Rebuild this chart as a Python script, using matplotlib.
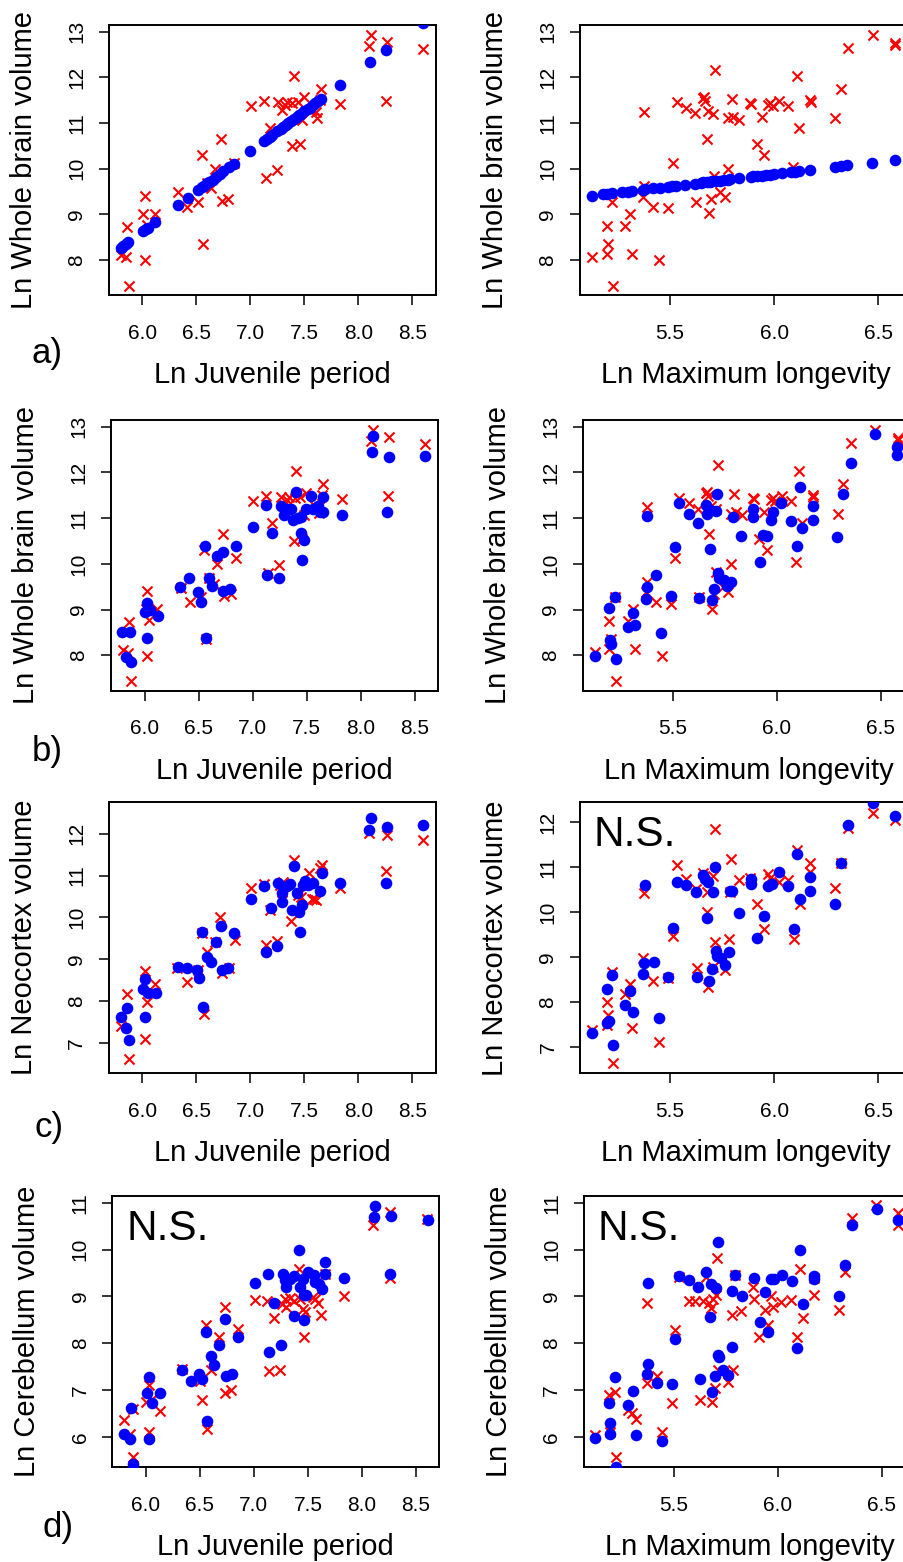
import matplotlib
matplotlib.use('Agg')
import matplotlib.pyplot as plt

plt.rcParams['font.family'] = ['Liberation Sans', 'DejaVu Sans']

# ---------------- observed values (red crosses) ----------------
obs_juv_brain_x = [5.80, 5.85, 5.855, 5.873, 6.01, 6.025, 6.025, 6.04, 6.117, 6.333, 6.417, 6.52, 6.55,
                   6.565, 6.60, 6.64, 6.67, 6.725, 6.735, 6.796, 6.85, 7.003, 7.127, 7.142, 7.182, 7.244,
                   7.26, 7.29, 7.32, 7.34, 7.383, 7.404, 7.39, 7.46, 7.44, 7.475, 7.497, 7.568, 7.614,
                   7.61, 7.65, 7.645, 7.83, 8.10, 8.114, 8.262, 8.253, 8.60]
obs_juv_brain_y = [8.11, 8.06, 8.73, 7.43, 9.01, 9.40, 7.99, 8.77, 9.01, 9.48, 9.17, 9.28, 10.30,
                   8.36, 9.68, 9.57, 10.00, 10.66, 9.30, 9.34, 10.12, 11.37, 11.49, 9.79, 10.90, 9.97,
                   11.47, 11.28, 11.39, 11.47, 10.50, 12.03, 11.43, 10.54, 11.47, 11.07, 11.56, 11.28, 11.12,
                   11.25, 11.74, 11.50, 11.42, 12.69, 12.93, 12.77, 11.49, 12.63]

obs_lon_brain_x = [5.127, 5.196, 5.204, 5.196, 5.223, 5.228, 5.284, 5.308, 5.319, 5.377, 5.372, 5.377,
                   5.42, 5.447, 5.492, 5.513, 5.532, 5.577, 5.62, 5.625, 5.66, 5.668, 5.663, 5.676,
                   5.684, 5.689, 5.697, 5.708, 5.716, 5.71, 5.74, 5.764, 5.78, 5.78, 5.796, 5.804,
                   5.833, 5.884, 5.89, 5.916, 5.94, 5.951, 5.972, 5.98, 5.993, 6.025, 6.068, 6.092,
                   6.108, 6.121, 6.172, 6.175, 6.292, 6.319, 6.356, 6.473, 6.58, 6.58]
obs_lon_brain_y = [8.07, 8.75, 8.36, 8.13, 9.28, 7.43, 8.74, 9.01, 8.13, 11.25, 9.39, 9.61,
                   9.17, 7.99, 9.13, 10.13, 11.45, 11.34, 11.21, 9.28, 11.54, 11.49, 11.58, 10.66,
                   11.26, 9.02, 9.34, 11.20, 12.16, 9.83, 9.50, 9.39, 9.99, 11.10, 11.53, 11.14,
                   11.07, 11.43, 11.42, 10.54, 11.14, 10.30, 11.39, 11.43, 11.37, 11.49, 11.37, 10.04,
                   12.03, 10.90, 11.50, 11.47, 11.10, 11.74, 12.64, 12.93, 12.76, 12.71]

obs_juv_neo_x = [5.80, 5.855, 5.873, 6.025, 6.04, 6.025, 6.117, 6.32, 6.417, 6.52, 6.571, 6.55, 6.596,
                 6.673, 6.719, 6.735, 6.806, 6.858, 7.003, 7.127, 7.142, 7.182, 7.244, 7.275, 7.306,
                 7.29, 7.377, 7.404, 7.44, 7.47, 7.546, 7.568, 7.59, 7.608, 7.645, 7.66, 7.83, 8.10,
                 8.262, 8.253, 8.60]
obs_juv_neo_y = [7.41, 8.16, 6.61, 8.72, 7.98, 7.10, 8.40, 8.79, 8.46, 8.74, 7.69, 9.62, 9.18,
                 9.42, 10.00, 8.66, 8.78, 9.46, 10.69, 10.79, 9.34, 10.17, 9.44, 10.77, 10.85,
                 10.61, 9.91, 11.37, 10.53, 10.49, 11.05, 10.43, 10.45, 10.41, 11.17, 11.25, 10.69, 12.01,
                 11.98, 11.11, 11.86]

obs_lon_neo_x = [5.127, 5.196, 5.204, 5.196, 5.223, 5.228, 5.284, 5.308, 5.319, 5.377, 5.372, 5.42,
                 5.447, 5.492, 5.513, 5.532, 5.577, 5.628, 5.625, 5.66, 5.676, 5.676, 5.684, 5.708,
                 5.716, 5.716, 5.708, 5.764, 5.785, 5.793, 5.788, 5.833, 5.884, 5.916, 5.951, 5.972,
                 5.98, 6.025, 6.068, 6.097, 6.108, 6.124, 6.172, 6.172, 6.292, 6.319, 6.356, 6.473, 6.58]
obs_lon_neo_y = [7.37, 7.99, 7.71, 7.48, 8.67, 6.63, 8.17, 8.39, 7.41, 10.42, 8.97, 8.46,
                 7.11, 8.52, 9.47, 11.05, 10.73, 8.75, 10.51, 10.86, 10.01, 10.44, 8.34, 10.81,
                 11.85, 9.33, 8.78, 8.71, 9.41, 11.18, 10.44, 10.71, 10.77, 10.19, 9.62, 10.84,
                 10.75, 10.68, 10.71, 9.41, 11.38, 10.19, 11.09, 10.89, 10.53, 11.09, 11.87, 12.20, 12.05]

obs_juv_cer_x = [5.80, 5.855, 5.88, 5.88, 6.00, 6.03, 6.03, 6.056, 6.127, 6.333, 6.50, 6.52, 6.556,
                 6.565, 6.60, 6.68, 6.728, 6.735, 6.79, 6.852, 7.006, 7.12, 7.139, 7.182, 7.244, 7.26,
                 7.29, 7.30, 7.33, 7.367, 7.414, 7.423, 7.454, 7.46, 7.475, 7.546, 7.568, 7.59, 7.62,
                 7.66, 7.83, 8.10, 8.262, 8.256, 8.60]
obs_juv_cer_y = [6.35, 6.06, 6.60, 5.57, 6.74, 7.11, 6.11, 6.81, 6.54, 7.45, 7.20, 6.78, 8.38,
                 6.17, 7.42, 8.13, 8.77, 6.94, 6.99, 8.31, 8.93, 8.91, 7.40, 8.54, 7.42, 8.84,
                 8.95, 8.77, 8.96, 8.91, 9.59, 8.95, 8.72, 8.13, 8.66, 8.98, 8.95, 8.86, 8.61,
                 9.48, 9.01, 10.53, 10.80, 9.39, 10.66]

obs_lon_cer_x = [5.121, 5.19, 5.193, 5.217, 5.222, 5.282, 5.30, 5.319, 5.37, 5.418, 5.442, 5.49, 5.508,
                 5.37, 5.527, 5.572, 5.604, 5.624, 5.64, 5.656, 5.669, 5.68, 5.685, 5.688, 5.704,
                 5.696, 5.709, 5.712, 5.736, 5.76, 5.78, 5.787, 5.792, 5.824, 5.88, 5.884, 5.912,
                 5.937, 5.953, 5.969, 5.977, 6.017, 6.065, 6.092, 6.105, 6.121, 6.174, 6.174, 6.293,
                 6.322, 6.354, 6.471, 6.579, 6.579]
obs_lon_cer_y = [6.03, 6.90, 6.09, 6.95, 5.57, 6.58, 6.51, 6.37, 7.15, 7.30, 6.09, 6.72, 8.27,
                 8.86, 9.41, 8.89, 8.91, 6.78, 8.91, 9.41, 8.86, 8.75, 6.74, 8.95, 9.02,
                 7.03, 9.82, 7.42, 7.38, 7.17, 8.61, 7.42, 9.45, 8.68, 9.20, 8.95, 8.13,
                 8.70, 8.38, 9.01, 8.77, 8.88, 8.93, 8.12, 9.59, 8.54, 9.02, 9.39, 8.70,
                 9.52, 10.67, 10.96, 10.79, 10.53]

# ---------------- predicted values (blue dots) ----------------
pred_a_juv_x = [5.80, 5.82, 5.85, 5.87, 6.01, 6.03, 6.05, 6.12, 6.33, 6.42, 6.52, 6.55, 6.57, 6.60, 6.62,
                6.65, 6.68, 6.72, 6.75, 6.80, 6.85, 7.00, 7.13, 7.15, 7.18, 7.20, 7.25, 7.28, 7.30, 7.33,
                7.35, 7.38, 7.40, 7.43, 7.45, 7.47, 7.50, 7.53, 7.55, 7.58, 7.60, 7.63, 7.65, 7.83, 8.11,
                8.26, 8.60]
pred_a_juv_y = [8.27, 8.30, 8.36, 8.39, 8.64, 8.67, 8.71, 8.83, 9.20, 9.36, 9.54, 9.59, 9.62, 9.68, 9.71,
                9.76, 9.82, 9.89, 9.94, 10.03, 10.11, 10.38, 10.61, 10.64, 10.69, 10.73, 10.82, 10.87, 10.91, 10.96,
                10.99, 11.05, 11.08, 11.13, 11.17, 11.20, 11.26, 11.31, 11.34, 11.40, 11.43, 11.49, 11.52, 11.84, 12.33,
                12.59, 13.19]

pred_a_lon_x = [5.127, 5.18, 5.20, 5.22, 5.27, 5.30, 5.32, 5.37, 5.38, 5.42, 5.45, 5.49, 5.51, 5.53, 5.57,
                5.62, 5.65, 5.66, 5.68, 5.69, 5.70, 5.72, 5.74, 5.76, 5.78, 5.79, 5.83, 5.89, 5.90, 5.92,
                5.94, 5.96, 5.98, 6.00, 6.04, 6.08, 6.10, 6.12, 6.17, 6.29, 6.32, 6.35, 6.47, 6.58]
pred_a_lon_y = [9.41, 9.44, 9.45, 9.46, 9.49, 9.50, 9.51, 9.54, 9.55, 9.57, 9.58, 9.60, 9.62, 9.63, 9.65,
                9.67, 9.69, 9.70, 9.71, 9.71, 9.72, 9.73, 9.74, 9.75, 9.76, 9.77, 9.79, 9.82, 9.83, 9.84,
                9.85, 9.86, 9.87, 9.88, 9.90, 9.92, 9.93, 9.94, 9.97, 10.03, 10.05, 10.07, 10.13, 10.19]

pred_b_juv_x = [5.793, 5.861, 5.83, 5.877, 6.025, 6.00, 6.05, 6.025, 6.123, 6.33, 6.41, 6.494, 6.52, 6.556,
                6.565, 6.60, 6.623, 6.67, 6.725, 6.73, 6.787, 6.849, 7.003, 7.12, 7.136, 7.182, 7.244,
                7.26, 7.287, 7.318, 7.358, 7.373, 7.404, 7.42, 7.444, 7.45, 7.457, 7.472, 7.49, 7.543,
                7.559, 7.605, 7.627, 7.65, 7.65, 7.827, 8.105, 8.114, 8.262, 8.247, 8.60]
pred_b_juv_y = [8.52, 8.52, 7.97, 7.86, 9.14, 8.95, 8.99, 8.37, 8.87, 9.50, 9.70, 9.39, 9.17, 10.40,
                8.37, 9.70, 9.52, 10.17, 10.25, 9.41, 9.44, 10.38, 10.80, 11.29, 9.76, 10.68, 9.68,
                11.27, 11.07, 11.21, 11.21, 10.96, 11.58, 11.00, 10.68, 11.03, 10.08, 10.52, 11.21, 11.48,
                11.21, 11.27, 11.14, 11.47, 11.14, 11.07, 12.45, 12.80, 12.33, 11.14, 12.36]

pred_b_lon_x = [5.126, 5.196, 5.198, 5.204, 5.222, 5.228, 5.284, 5.31, 5.321, 5.372, 5.377, 5.377, 5.42,
                5.446, 5.492, 5.513, 5.532, 5.577, 5.62, 5.625, 5.66, 5.665, 5.677, 5.68, 5.688, 5.696,
                5.708, 5.712, 5.716, 5.72, 5.744, 5.76, 5.78, 5.789, 5.83, 5.885, 5.885, 5.917, 5.936,
                5.952, 5.971, 5.981, 6.021, 6.067, 6.096, 6.109, 6.123, 6.173, 6.173, 6.29, 6.32, 6.355,
                6.471, 6.575, 6.575]
pred_b_lon_y = [7.99, 9.03, 8.34, 8.25, 9.28, 7.93, 8.63, 8.93, 8.66, 9.23, 9.49, 11.05, 9.76,
                8.48, 9.30, 10.36, 11.34, 11.10, 10.90, 9.25, 11.29, 11.10, 10.32, 11.18, 9.20, 9.45,
                11.16, 11.53, 9.79, 9.68, 9.65, 9.52, 9.60, 11.02, 10.61, 11.19, 11.02, 10.03, 10.63,
                10.62, 10.96, 11.13, 11.34, 10.94, 10.40, 11.67, 10.79, 11.27, 10.97, 10.58, 11.52, 12.21,
                12.85, 12.55, 12.37]

pred_c_juv_x = [5.80, 5.849, 5.861, 5.877, 6.003, 6.025, 6.025, 6.056, 6.123, 6.333, 6.417, 6.503, 6.525,
                6.556, 6.565, 6.602, 6.633, 6.679, 6.725, 6.735, 6.796, 6.852, 7.006, 7.127, 7.142, 7.188,
                7.244, 7.26, 7.29, 7.296, 7.343, 7.367, 7.383, 7.404, 7.429, 7.454, 7.46, 7.475, 7.485,
                7.506, 7.537, 7.583, 7.645, 7.66, 7.83, 8.10, 8.114, 8.262, 8.253, 8.60]
pred_c_juv_y = [7.61, 7.34, 7.84, 7.06, 8.28, 8.52, 7.61, 8.20, 8.20, 8.80, 8.79, 8.74, 8.56,
                9.64, 7.85, 9.06, 8.94, 9.40, 9.79, 8.75, 8.79, 9.63, 10.45, 10.76, 9.18, 10.23,
                9.32, 10.83, 10.57, 10.37, 10.75, 10.79, 10.17, 11.23, 10.57, 10.12, 9.64, 10.29, 10.77,
                10.87, 10.77, 10.81, 10.63, 11.07, 10.83, 12.10, 12.38, 12.15, 10.81, 12.22]

pred_c_lon_x = [5.127, 5.196, 5.196, 5.207, 5.223, 5.228, 5.284, 5.308, 5.321, 5.372, 5.377, 5.38, 5.423,
                5.447, 5.492, 5.513, 5.532, 5.577, 5.623, 5.628, 5.66, 5.668, 5.684, 5.676, 5.686, 5.70,
                5.708, 5.716, 5.719, 5.724, 5.743, 5.764, 5.783, 5.788, 5.796, 5.831, 5.887, 5.887, 5.916,
                5.951, 5.972, 5.988, 6.023, 6.068, 6.097, 6.111, 6.124, 6.172, 6.172, 6.292, 6.321, 6.356,
                6.473, 6.58]
pred_c_lon_y = [7.30, 8.29, 7.52, 7.58, 8.60, 7.04, 7.93, 8.24, 7.77, 8.63, 8.86, 10.60, 8.89,
                7.65, 8.56, 9.65, 10.66, 10.60, 10.45, 8.56, 10.83, 10.73, 10.68, 9.86, 8.46, 8.73,
                10.45, 11.01, 9.14, 9.01, 8.97, 8.82, 9.10, 10.47, 10.47, 9.99, 10.73, 10.63, 9.43,
                9.91, 10.58, 10.63, 10.90, 10.57, 9.62, 11.29, 10.28, 10.79, 10.47, 10.19, 11.09, 11.94,
                12.42, 12.13]

pred_d_juv_x = [5.80, 5.849, 5.864, 5.88, 6.01, 6.03, 6.03, 6.056, 6.127, 6.333, 6.417, 6.494, 6.519,
                6.556, 6.565, 6.60, 6.627, 6.679, 6.728, 6.74, 6.796, 6.852, 7.006, 7.13, 7.142, 7.182,
                7.25, 7.265, 7.284, 7.30, 7.336, 7.367, 7.373, 7.414, 7.429, 7.454, 7.46, 7.46, 7.485,
                7.497, 7.552, 7.568, 7.60, 7.63, 7.66, 7.66, 7.836, 8.123, 8.114, 8.268, 8.256, 8.608]
pred_d_juv_y = [6.06, 5.96, 6.61, 5.41, 6.94, 7.28, 5.96, 6.71, 6.94, 7.42, 7.19, 7.35, 7.24,
                8.24, 6.33, 7.72, 7.54, 7.97, 8.52, 7.30, 7.35, 8.12, 9.28, 9.48, 7.81, 8.86,
                7.97, 9.47, 9.34, 9.20, 9.38, 9.43, 8.58, 9.98, 9.20, 9.38, 9.02, 8.50, 9.03,
                9.52, 9.45, 9.30, 9.27, 9.16, 9.73, 9.48, 9.39, 10.94, 10.69, 10.72, 9.48, 10.64]

pred_d_lon_x = [5.121, 5.19, 5.195, 5.193, 5.217, 5.225, 5.282, 5.303, 5.319, 5.37, 5.375, 5.375, 5.418,
                5.442, 5.49, 5.508, 5.527, 5.575, 5.619, 5.624, 5.656, 5.675, 5.68, 5.685, 5.696, 5.704,
                5.712, 5.712, 5.717, 5.736, 5.76, 5.78, 5.78, 5.792, 5.827, 5.884, 5.916, 5.937, 5.953,
                5.969, 5.98, 6.02, 6.068, 6.094, 6.105, 6.121, 6.174, 6.174, 6.293, 6.322, 6.357, 6.474,
                6.579]
pred_d_lon_y = [5.98, 6.71, 6.29, 6.06, 7.27, 5.35, 6.68, 6.98, 6.04, 7.35, 7.55, 9.28, 7.15,
                5.90, 7.12, 8.08, 9.43, 9.34, 9.20, 7.23, 9.52, 8.56, 9.27, 6.95, 7.30, 9.18,
                10.15, 7.75, 7.70, 7.42, 7.31, 7.92, 9.11, 9.45, 9.01, 9.39, 8.45, 9.09, 8.24,
                9.36, 9.38, 9.46, 9.32, 7.90, 10.00, 8.84, 9.43, 9.36, 9.01, 9.66, 10.53, 10.87,
                10.62]

# ---------------- labels / ticks ----------------
xlabel_juv = "Ln Juvenile period"
xlabel_lon = "Ln Maximum longevity"
ylabels = ["Ln Whole brain volume", "Ln Whole brain volume", "Ln Neocortex volume", "Ln Cerebellum volume"]
panel_letters = ["a)", "b)", "c)", "d)"]
xticks_juv = [6.0, 6.5, 7.0, 7.5, 8.0, 8.5]
xticks_lon = [5.5, 6.0, 6.5]
yticks_rows = [[8, 9, 10, 11, 12, 13], [8, 9, 10, 11, 12, 13], [7, 8, 9, 10, 11, 12], [6, 7, 8, 9, 10, 11]]
ns_flags = [[False, False], [False, False], [False, True], [True, True]]

W, H = 904, 1562
fig = plt.figure(figsize=(W / 100, H / 100), dpi=100)

# axes boxes in pixels: (left, top, width, height)
boxes = [
    [(108.7, 25.0, 327.0, 270.3), (580.0, 25.0, 331.6, 270.3)],
    [(111.0, 420.0, 327.0, 270.7), (582.7, 420.0, 331.6, 270.7)],
    [(108.7, 801.7, 327.0, 271.6), (580.0, 802.3, 331.6, 271.0)],
    [(112.3, 1196.3, 327.0, 271.0), (583.7, 1196.3, 331.6, 271.0)],
]
xlims = [(5.689, 8.716), (5.068, 6.660)]
ylims = [[(7.227, 13.147), (7.227, 13.147)],
         [(7.226, 13.146), (7.226, 13.146)],
         [(6.268, 12.766), (6.407, 12.446)],
         [(5.346, 11.137), (5.346, 11.137)]]

obs = [
    [(obs_juv_brain_x, obs_juv_brain_y), (obs_lon_brain_x, obs_lon_brain_y)],
    [(obs_juv_brain_x, obs_juv_brain_y), (obs_lon_brain_x, obs_lon_brain_y)],
    [(obs_juv_neo_x, obs_juv_neo_y), (obs_lon_neo_x, obs_lon_neo_y)],
    [(obs_juv_cer_x, obs_juv_cer_y), (obs_lon_cer_x, obs_lon_cer_y)],
]
pred = [
    [(pred_a_juv_x, pred_a_juv_y), (pred_a_lon_x, pred_a_lon_y)],
    [(pred_b_juv_x, pred_b_juv_y), (pred_b_lon_x, pred_b_lon_y)],
    [(pred_c_juv_x, pred_c_juv_y), (pred_c_lon_x, pred_c_lon_y)],
    [(pred_d_juv_x, pred_d_juv_y), (pred_d_lon_x, pred_d_lon_y)],
]
letter_pos = [(47, 353), (47, 752), (49, 1127), (58, 1528)]

PT = 72 / 100  # points per pixel

for r in range(4):
    for c in range(2):
        l, t, w, h = boxes[r][c]
        ax = fig.add_axes([l / W, 1 - (t + h) / H, w / W, h / H])
        ox, oy = obs[r][c]
        px, py = pred[r][c]
        ax.scatter(ox, oy, marker='x', s=52, c='#ff0000', linewidths=1.5, zorder=2)
        ax.scatter(px, py, marker='o', s=70, c='#0000ff', linewidths=0, zorder=3)
        ax.set_xlim(*xlims[c])
        ax.set_ylim(*ylims[r][c])
        ax.set_xticks(xticks_juv if c == 0 else xticks_lon)
        ax.set_xticklabels(["%.1f" % v for v in (xticks_juv if c == 0 else xticks_lon)])
        ax.set_yticks(yticks_rows[r])
        ax.set_yticklabels([str(v) for v in yticks_rows[r]])
        for s in ax.spines.values():
            s.set_linewidth(1.4)
        ax.tick_params(axis='both', direction='out', length=7.2, width=1.1, labelsize=15, colors='black')
        ax.tick_params(axis='x', pad=13.5)
        ax.tick_params(axis='y', pad=9, labelrotation=90)
        for lbl in ax.get_yticklabels():
            lbl.set_va('center')
        ax.annotate(xlabel_juv if c == 0 else xlabel_lon, xy=(0.5, 0), xycoords='axes fraction',
                    xytext=(0, -80 * PT), textcoords='offset points', ha='center', va='center',
                    fontsize=21, annotation_clip=False)
        ax.annotate(ylabels[r], xy=(0, 0.5), xycoords='axes fraction',
                    xytext=(-85 * PT, 0), textcoords='offset points', ha='center', va='center',
                    rotation=90, fontsize=21, annotation_clip=False)
        if ns_flags[r][c]:
            ax.annotate("N.S.", xy=(0, 1), xycoords='axes fraction',
                        xytext=(14 * PT, -44 * PT), textcoords='offset points', ha='left',
                        va='baseline', fontsize=30.5, zorder=5)
    lx, ly = letter_pos[r]
    fig.text(lx / W, 1 - ly / H, panel_letters[r], ha='center', va='center', fontsize=25)

fig.savefig("out.png", dpi=100)
